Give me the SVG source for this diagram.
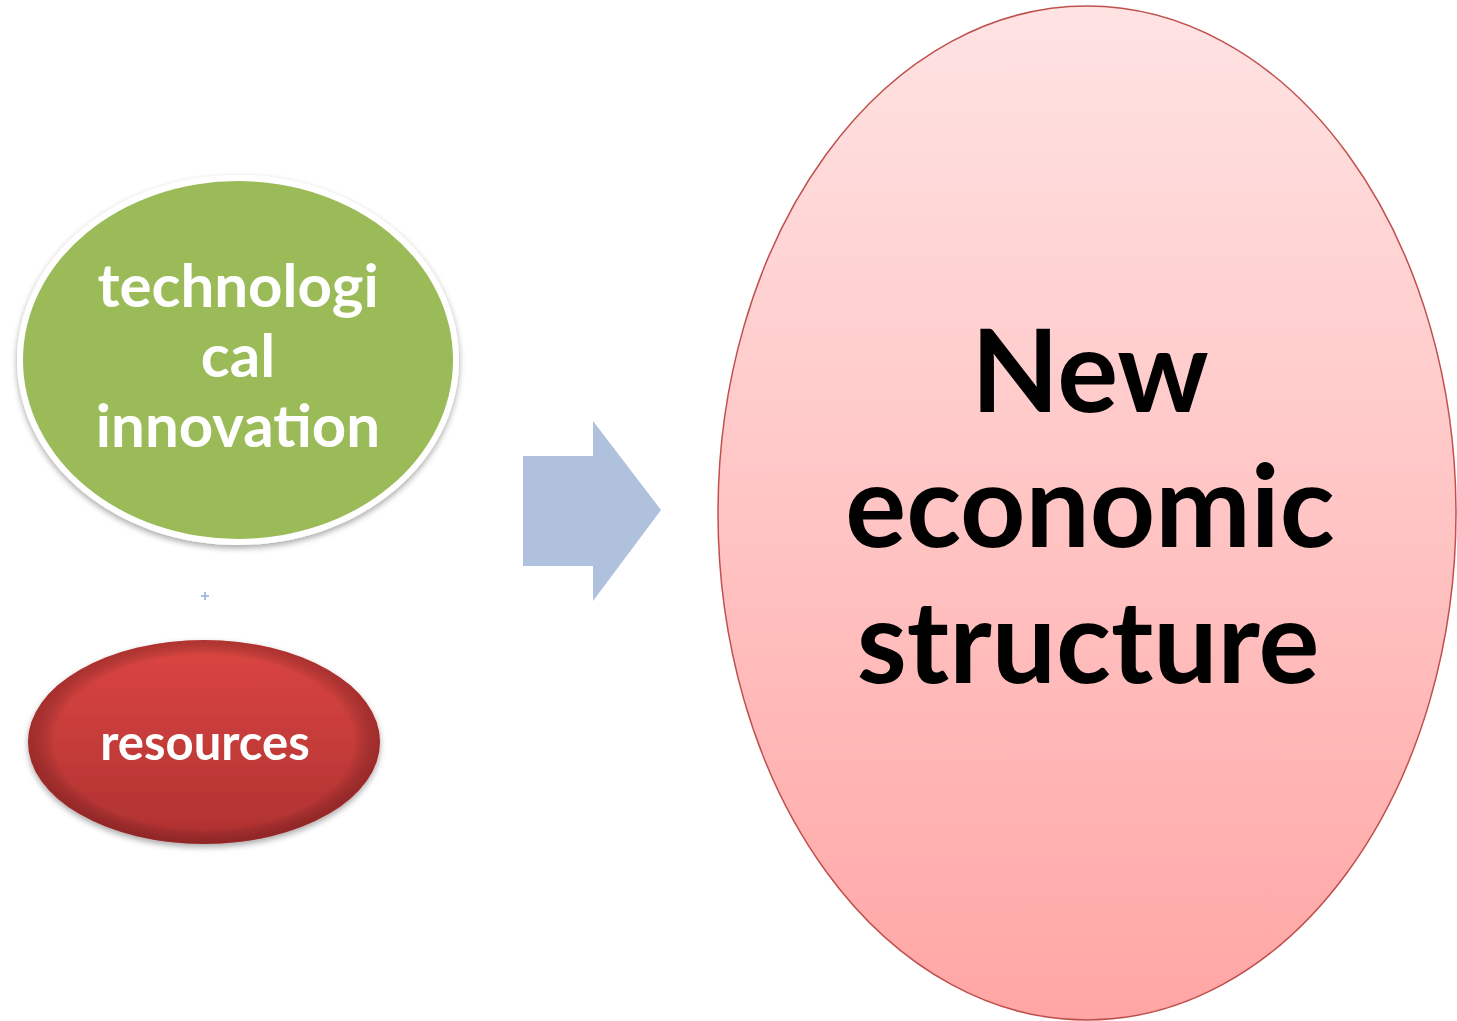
<svg xmlns="http://www.w3.org/2000/svg" width="1457" height="1021" viewBox="0 0 1457 1021">
<defs>
<linearGradient id="pinkGrad" x1="0" y1="0" x2="0" y2="1">
<stop offset="0" stop-color="#ffe3e3"/>
<stop offset="1" stop-color="#ffa6a5"/>
</linearGradient>
<linearGradient id="redGrad" x1="0" y1="0" x2="0" y2="1">
<stop offset="0" stop-color="#dc4642"/>
<stop offset="1" stop-color="#ae3131"/>
</linearGradient>
<radialGradient id="redBevel" cx="0.5" cy="0.5" r="0.5">
<stop offset="0.85" stop-color="#000" stop-opacity="0"/>
<stop offset="1" stop-color="#5a0f0f" stop-opacity="0.35"/>
</radialGradient>
<filter id="shadow" x="-10%" y="-10%" width="120%" height="125%">
<feGaussianBlur in="SourceAlpha" stdDeviation="3"/>
<feOffset dx="0" dy="3" result="b"/>
<feComponentTransfer><feFuncA type="linear" slope="0.35"/></feComponentTransfer>
<feMerge><feMergeNode/><feMergeNode in="SourceGraphic"/></feMerge>
</filter>
<style>
.lbl{font-family:Lato,"Liberation Sans",sans-serif;font-weight:bold;text-anchor:middle}
.white{fill:#ffffff}
</style>
</defs>
<rect width="1457" height="1021" fill="#ffffff"/>
<g id="node-tech">
<ellipse cx="238" cy="360" rx="221" ry="185" fill="#ffffff" filter="url(#shadow)"/>
<ellipse cx="238" cy="360" rx="215" ry="179" fill="#9bbb59"/>
<text class="lbl white" font-size="60" x="238" y="307">technologi</text>
<text class="lbl white" font-size="60" x="238" y="377">cal</text>
<text class="lbl white" font-size="60" x="238" y="447">innovation</text>
</g>
<g id="node-plus">
<path d="M201 596 H209 M205 592 V600" stroke="#a9bcdc" stroke-width="2"/>
</g>
<g id="node-resources">
<ellipse cx="204" cy="742" rx="176" ry="102" fill="url(#redGrad)" filter="url(#shadow)"/>
<ellipse cx="204" cy="742" rx="176" ry="102" fill="url(#redBevel)"/>
<text class="lbl white" font-size="49" x="205" y="760">resources</text>
</g>
<g id="connectors">
<polygon points="523,456 593,456 593,421 661,510 593,601 593,566 523,566" fill="#b0c1dd"/>
</g>
<g id="node-new">
<ellipse cx="1087" cy="513" rx="369" ry="507" fill="url(#pinkGrad)" stroke="#c0504d" stroke-width="1.5"/>
<text class="lbl" font-size="114" fill="#000000" x="1090" y="412">New</text>
<text class="lbl" font-size="114" fill="#000000" x="1090" y="547">economic</text>
<text class="lbl" font-size="114" fill="#000000" x="1088" y="683">structure</text>
</g>
</svg>
